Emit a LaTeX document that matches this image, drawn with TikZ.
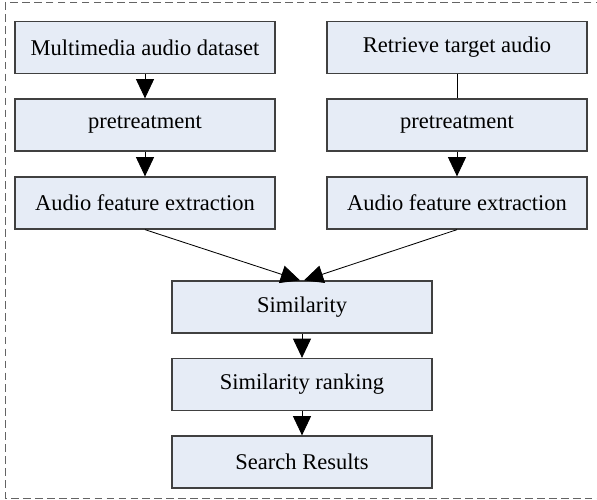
\documentclass[tikz,border=0pt]{standalone}
\usepackage{fontspec}
\setmainfont{Liberation Serif}
\usepackage{tikz}
\usetikzlibrary{arrows.meta}
\definecolor{boxfill}{RGB}{230,236,246}
\definecolor{boxline}{RGB}{64,64,64}
\definecolor{frameline}{RGB}{100,100,100}
\tikzset{
  stage/.style={draw=boxline, line width=0.9pt, fill=boxfill, minimum width=6.5cm,
    minimum height=1.3cm, inner sep=0pt, font=\fontsize{16}{19}\selectfont},
  flow/.style={line width=0.6pt, -{Triangle[length=4.8mm, width=4.5mm]}},
  plain/.style={line width=0.6pt}
}
\begin{document}
\begin{tikzpicture}[x=0.025cm, y=-0.025cm]
\useasboundingbox (0,0) rectangle (597,499);
\clip (0,0) rectangle (597,499);
\draw[frameline, line width=0.7pt, dash pattern=on 5.5pt off 3pt] (5,2) rectangle (603,498);

\node[stage] (data) at (145,47.5) {Multimedia audio dataset};
\node[stage] (pre1) at (145,125) {pretreatment};
\node[stage] (feat1) at (145,203) {Audio feature extraction};

\node[stage] (query) at (457,47.5) {Retrieve target audio};
\node[stage] (pre2) at (457,125) {pretreatment};
\node[stage] (feat2) at (457,203) {Audio feature extraction};

\node[stage] (sim) at (302,307) {Similarity};
\node[stage] (rank) at (302,384.5) {Similarity ranking};
\node[stage] (result) at (302,462) {Search Results};

\draw[flow] (data) -- (pre1);
\draw[flow] (pre1) -- (feat1);
\draw[plain] (query) -- (pre2);
\draw[flow] (pre2) -- (feat2);
\draw[flow] (feat1.south) -- ([xshift=-0.05cm]sim.north);
\draw[flow] (feat2.south) -- ([xshift=0.05cm]sim.north);
\draw[flow] (sim) -- (rank);
\draw[flow] (rank) -- (result);
\end{tikzpicture}
\end{document}
